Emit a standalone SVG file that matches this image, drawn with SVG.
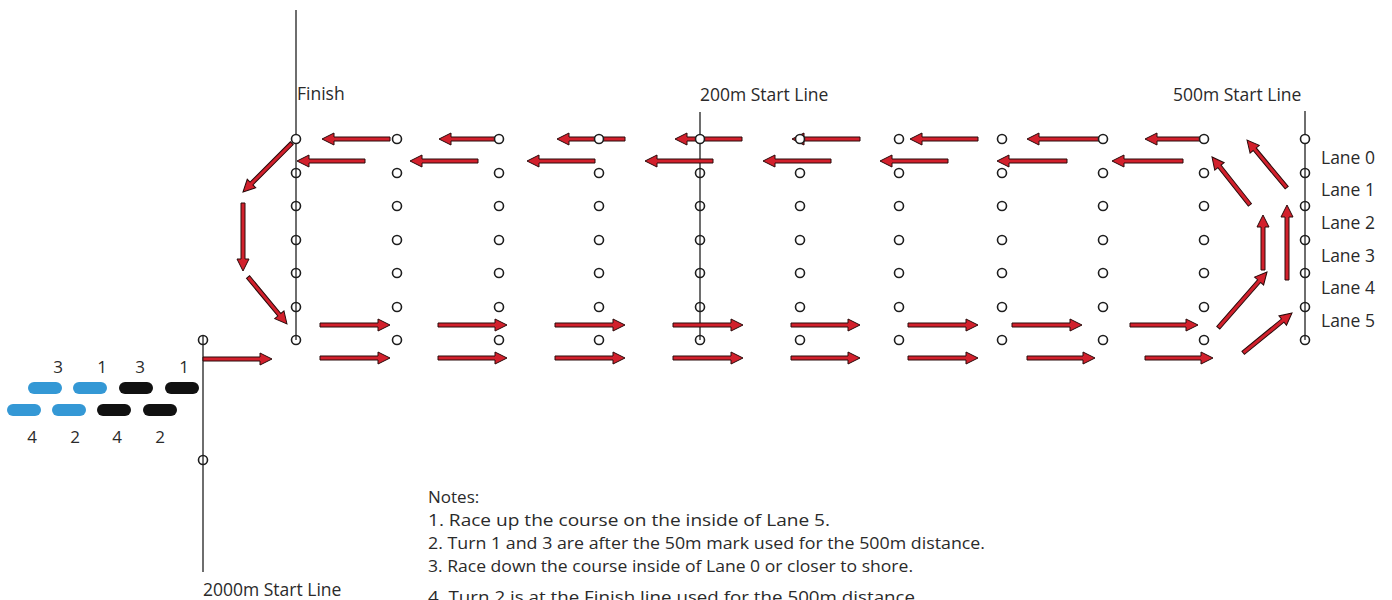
<svg xmlns="http://www.w3.org/2000/svg" width="1392" height="600" viewBox="0 0 1392 600">
<style>
.ln{stroke:#6e6e6e;stroke-width:2;fill:none}
.ar{fill:#d2202c;stroke:#2a0a0a;stroke-width:1;stroke-linejoin:miter}
.b{fill:#fff;stroke:#1e1e1e;stroke-width:1.6}
.bl{fill:none;stroke:#1e1e1e;stroke-width:1.6}
.t{font-family:"Open Sans","Noto Sans",sans-serif;font-size:17.5px;fill:#2a2a2a}
.nt{font-family:"Open Sans","Noto Sans",sans-serif;font-size:17px;fill:#2a2a2a}
.n{font-family:"Open Sans","Noto Sans",sans-serif;font-size:17px;fill:#2a2a2a;text-anchor:middle}
.blue{fill:#3498d5}
.blk{fill:#111}
</style>
<rect width="1392" height="600" fill="#fff"/>
<g id="course-lines">
<line class="ln" x1="296" y1="10" x2="296" y2="340"/>
<line class="ln" x1="700" y1="112" x2="700" y2="340"/>
<line class="ln" x1="1305" y1="111" x2="1305" y2="340"/>
<line class="ln" x1="203" y1="336" x2="203" y2="572"/>
</g>
<g id="connectors">
<!-- top row 1 -->
<path class="ar" transform="translate(322,139) rotate(180)" d="M0,0 L-12,-6 L-12,-2 L-68,-2 L-68,2 L-12,2 L-12,6 Z"/>
<path class="ar" transform="translate(439,139) rotate(180)" d="M0,0 L-12,-6 L-12,-2 L-62,-2 L-62,2 L-12,2 L-12,6 Z"/>
<path class="ar" transform="translate(557,139) rotate(180)" d="M0,0 L-12,-6 L-12,-2 L-68,-2 L-68,2 L-12,2 L-12,6 Z"/>
<path class="ar" transform="translate(675,139) rotate(180)" d="M0,0 L-12,-6 L-12,-2 L-67,-2 L-67,2 L-12,2 L-12,6 Z"/>
<path class="ar" transform="translate(792,139) rotate(180)" d="M0,0 L-12,-6 L-12,-2 L-68,-2 L-68,2 L-12,2 L-12,6 Z"/>
<path class="ar" transform="translate(910,139) rotate(180)" d="M0,0 L-12,-6 L-12,-2 L-68,-2 L-68,2 L-12,2 L-12,6 Z"/>
<path class="ar" transform="translate(1027,139) rotate(180)" d="M0,0 L-12,-6 L-12,-2 L-73,-2 L-73,2 L-12,2 L-12,6 Z"/>
<path class="ar" transform="translate(1145,139) rotate(180)" d="M0,0 L-12,-6 L-12,-2 L-60,-2 L-60,2 L-12,2 L-12,6 Z"/>
<!-- top row 2 -->
<path class="ar" transform="translate(297,161) rotate(180)" d="M0,0 L-12,-6 L-12,-2 L-68,-2 L-68,2 L-12,2 L-12,6 Z"/>
<path class="ar" transform="translate(410,161) rotate(180)" d="M0,0 L-12,-6 L-12,-2 L-68,-2 L-68,2 L-12,2 L-12,6 Z"/>
<path class="ar" transform="translate(527,161) rotate(180)" d="M0,0 L-12,-6 L-12,-2 L-68,-2 L-68,2 L-12,2 L-12,6 Z"/>
<path class="ar" transform="translate(645,161) rotate(180)" d="M0,0 L-12,-6 L-12,-2 L-68,-2 L-68,2 L-12,2 L-12,6 Z"/>
<path class="ar" transform="translate(763,161) rotate(180)" d="M0,0 L-12,-6 L-12,-2 L-68,-2 L-68,2 L-12,2 L-12,6 Z"/>
<path class="ar" transform="translate(880,161) rotate(180)" d="M0,0 L-12,-6 L-12,-2 L-68,-2 L-68,2 L-12,2 L-12,6 Z"/>
<path class="ar" transform="translate(997,161) rotate(180)" d="M0,0 L-12,-6 L-12,-2 L-70,-2 L-70,2 L-12,2 L-12,6 Z"/>
<path class="ar" transform="translate(1112,161) rotate(180)" d="M0,0 L-12,-6 L-12,-2 L-71,-2 L-71,2 L-12,2 L-12,6 Z"/>
<!-- bottom row A -->
<path class="ar" transform="translate(390,325)" d="M0,0 L-12,-6 L-12,-2 L-70,-2 L-70,2 L-12,2 L-12,6 Z"/>
<path class="ar" transform="translate(507,325)" d="M0,0 L-12,-6 L-12,-2 L-69,-2 L-69,2 L-12,2 L-12,6 Z"/>
<path class="ar" transform="translate(625,325)" d="M0,0 L-12,-6 L-12,-2 L-70,-2 L-70,2 L-12,2 L-12,6 Z"/>
<path class="ar" transform="translate(743,325)" d="M0,0 L-12,-6 L-12,-2 L-70,-2 L-70,2 L-12,2 L-12,6 Z"/>
<path class="ar" transform="translate(860,325)" d="M0,0 L-12,-6 L-12,-2 L-69,-2 L-69,2 L-12,2 L-12,6 Z"/>
<path class="ar" transform="translate(978,325)" d="M0,0 L-12,-6 L-12,-2 L-70,-2 L-70,2 L-12,2 L-12,6 Z"/>
<path class="ar" transform="translate(1082,325)" d="M0,0 L-12,-6 L-12,-2 L-70,-2 L-70,2 L-12,2 L-12,6 Z"/>
<path class="ar" transform="translate(1198,325)" d="M0,0 L-12,-6 L-12,-2 L-68,-2 L-68,2 L-12,2 L-12,6 Z"/>
<!-- bottom row B -->
<path class="ar" transform="translate(390,358)" d="M0,0 L-12,-6 L-12,-2 L-70,-2 L-70,2 L-12,2 L-12,6 Z"/>
<path class="ar" transform="translate(507,358)" d="M0,0 L-12,-6 L-12,-2 L-69,-2 L-69,2 L-12,2 L-12,6 Z"/>
<path class="ar" transform="translate(625,358)" d="M0,0 L-12,-6 L-12,-2 L-70,-2 L-70,2 L-12,2 L-12,6 Z"/>
<path class="ar" transform="translate(743,358)" d="M0,0 L-12,-6 L-12,-2 L-70,-2 L-70,2 L-12,2 L-12,6 Z"/>
<path class="ar" transform="translate(860,358)" d="M0,0 L-12,-6 L-12,-2 L-69,-2 L-69,2 L-12,2 L-12,6 Z"/>
<path class="ar" transform="translate(978,358)" d="M0,0 L-12,-6 L-12,-2 L-70,-2 L-70,2 L-12,2 L-12,6 Z"/>
<path class="ar" transform="translate(1095,358)" d="M0,0 L-12,-6 L-12,-2 L-68,-2 L-68,2 L-12,2 L-12,6 Z"/>
<path class="ar" transform="translate(1213,358)" d="M0,0 L-12,-6 L-12,-2 L-68,-2 L-68,2 L-12,2 L-12,6 Z"/>
<!-- left turn -->
<path class="ar" transform="translate(243,192) rotate(135)" d="M0,0 L-12,-6 L-12,-2 L-69,-2 L-69,2 L-12,2 L-12,6 Z"/>
<path class="ar" transform="translate(243,271) rotate(90)" d="M0,0 L-12,-6 L-12,-2 L-68,-2 L-68,2 L-12,2 L-12,6 Z"/>
<path class="ar" transform="translate(287,324) rotate(50.3)" d="M0,0 L-12,-6 L-12,-2 L-61,-2 L-61,2 L-12,2 L-12,6 Z"/>
<path class="ar" transform="translate(272,359)" d="M0,0 L-12,-6 L-12,-2 L-69,-2 L-69,2 L-12,2 L-12,6 Z"/>
<!-- right turn -->
<path class="ar" transform="translate(1212,157) rotate(-128.4)" d="M0,0 L-12,-6 L-12,-2 L-61,-2 L-61,2 L-12,2 L-12,6 Z"/>
<path class="ar" transform="translate(1247,140) rotate(-129.8)" d="M0,0 L-12,-6 L-12,-2 L-62,-2 L-62,2 L-12,2 L-12,6 Z"/>
<path class="ar" transform="translate(1263,215) rotate(-90)" d="M0,0 L-12,-6 L-12,-2 L-55,-2 L-55,2 L-12,2 L-12,6 Z"/>
<path class="ar" transform="translate(1287,205) rotate(-90)" d="M0,0 L-12,-6 L-12,-2 L-75,-2 L-75,2 L-12,2 L-12,6 Z"/>
<path class="ar" transform="translate(1267,272) rotate(-48.8)" d="M0,0 L-12,-6 L-12,-2 L-74,-2 L-74,2 L-12,2 L-12,6 Z"/>
<path class="ar" transform="translate(1292,313) rotate(-39.2)" d="M0,0 L-12,-6 L-12,-2 L-63,-2 L-63,2 L-12,2 L-12,6 Z"/>
</g>
<g id="buoys">
<g id="col-finish">
<circle class="b" cx="296" cy="139" r="4.5"/><circle class="bl" cx="296" cy="173" r="4.5"/><circle class="bl" cx="296" cy="206" r="4.5"/><circle class="bl" cx="296" cy="240" r="4.5"/><circle class="bl" cx="296" cy="273" r="4.5"/><circle class="bl" cx="296" cy="307" r="4.5"/><circle class="bl" cx="296" cy="340" r="4.5"/>
</g>
<g id="col-397">
<circle class="b" cx="397" cy="139" r="4.5"/><circle class="b" cx="397" cy="173" r="4.5"/><circle class="b" cx="397" cy="206" r="4.5"/><circle class="b" cx="397" cy="240" r="4.5"/><circle class="b" cx="397" cy="273" r="4.5"/><circle class="b" cx="397" cy="307" r="4.5"/><circle class="b" cx="397" cy="340" r="4.5"/>
</g>
<g id="col-499">
<circle class="b" cx="499" cy="139" r="4.5"/><circle class="b" cx="499" cy="173" r="4.5"/><circle class="b" cx="499" cy="206" r="4.5"/><circle class="b" cx="499" cy="240" r="4.5"/><circle class="b" cx="499" cy="273" r="4.5"/><circle class="b" cx="499" cy="307" r="4.5"/><circle class="b" cx="499" cy="340" r="4.5"/>
</g>
<g id="col-599">
<circle class="b" cx="599" cy="139" r="4.5"/><circle class="b" cx="599" cy="173" r="4.5"/><circle class="b" cx="599" cy="206" r="4.5"/><circle class="b" cx="599" cy="240" r="4.5"/><circle class="b" cx="599" cy="273" r="4.5"/><circle class="b" cx="599" cy="307" r="4.5"/><circle class="b" cx="599" cy="340" r="4.5"/>
</g>
<g id="col-200m">
<circle class="b" cx="700" cy="139" r="4.5"/><circle class="bl" cx="700" cy="173" r="4.5"/><circle class="bl" cx="700" cy="206" r="4.5"/><circle class="bl" cx="700" cy="240" r="4.5"/><circle class="bl" cx="700" cy="273" r="4.5"/><circle class="bl" cx="700" cy="307" r="4.5"/><circle class="bl" cx="700" cy="340" r="4.5"/>
</g>
<g id="col-800">
<circle class="b" cx="800" cy="139" r="4.5"/><circle class="b" cx="800" cy="173" r="4.5"/><circle class="b" cx="800" cy="206" r="4.5"/><circle class="b" cx="800" cy="240" r="4.5"/><circle class="b" cx="800" cy="273" r="4.5"/><circle class="b" cx="800" cy="307" r="4.5"/><circle class="b" cx="800" cy="340" r="4.5"/>
</g>
<g id="col-899">
<circle class="b" cx="899" cy="139" r="4.5"/><circle class="b" cx="899" cy="173" r="4.5"/><circle class="b" cx="899" cy="206" r="4.5"/><circle class="b" cx="899" cy="240" r="4.5"/><circle class="b" cx="899" cy="273" r="4.5"/><circle class="b" cx="899" cy="307" r="4.5"/><circle class="b" cx="899" cy="340" r="4.5"/>
</g>
<g id="col-1002">
<circle class="b" cx="1002" cy="139" r="4.5"/><circle class="b" cx="1002" cy="173" r="4.5"/><circle class="b" cx="1002" cy="206" r="4.5"/><circle class="b" cx="1002" cy="240" r="4.5"/><circle class="b" cx="1002" cy="273" r="4.5"/><circle class="b" cx="1002" cy="307" r="4.5"/><circle class="b" cx="1002" cy="340" r="4.5"/>
</g>
<g id="col-1103">
<circle class="b" cx="1103" cy="139" r="4.5"/><circle class="b" cx="1103" cy="173" r="4.5"/><circle class="b" cx="1103" cy="206" r="4.5"/><circle class="b" cx="1103" cy="240" r="4.5"/><circle class="b" cx="1103" cy="273" r="4.5"/><circle class="b" cx="1103" cy="307" r="4.5"/><circle class="b" cx="1103" cy="340" r="4.5"/>
</g>
<g id="col-1204">
<circle class="b" cx="1204" cy="139" r="4.5"/><circle class="b" cx="1204" cy="173" r="4.5"/><circle class="b" cx="1204" cy="206" r="4.5"/><circle class="b" cx="1204" cy="240" r="4.5"/><circle class="b" cx="1204" cy="273" r="4.5"/><circle class="b" cx="1204" cy="307" r="4.5"/><circle class="b" cx="1204" cy="340" r="4.5"/>
</g>
<g id="col-500m">
<circle class="b" cx="1305" cy="139" r="4.5"/><circle class="bl" cx="1305" cy="173" r="4.5"/><circle class="bl" cx="1305" cy="206" r="4.5"/><circle class="bl" cx="1305" cy="240" r="4.5"/><circle class="bl" cx="1305" cy="273" r="4.5"/><circle class="bl" cx="1305" cy="307" r="4.5"/><circle class="bl" cx="1305" cy="340" r="4.5"/>
</g>
<g id="col-2000m">
<circle class="bl" cx="203" cy="340" r="4.5"/><circle class="bl" cx="203" cy="460" r="4.5"/>
</g>
</g>
<g id="boats">
<rect class="blue" x="28" y="382" width="34" height="12" rx="6"/>
<rect class="blue" x="73" y="382" width="34" height="12" rx="6"/>
<rect class="blk" x="119" y="382" width="34" height="12" rx="6"/>
<rect class="blk" x="165" y="382" width="34" height="12" rx="6"/>
<rect class="blue" x="7" y="404" width="34" height="12" rx="6"/>
<rect class="blue" x="52" y="404" width="34" height="12" rx="6"/>
<rect class="blk" x="97" y="404" width="34" height="12" rx="6"/>
<rect class="blk" x="143" y="404" width="34" height="12" rx="6"/>
<text class="n" x="58" y="373">3</text>
<text class="n" x="102" y="373">1</text>
<text class="n" x="140" y="373">3</text>
<text class="n" x="184" y="373">1</text>
<text class="n" x="32" y="443">4</text>
<text class="n" x="75" y="443">2</text>
<text class="n" x="117" y="443">4</text>
<text class="n" x="160" y="443">2</text>
</g>
<g id="labels">
<text class="t" x="297" y="100">Finish</text>
<text class="t" x="700" y="101">200m Start Line</text>
<text class="t" x="1173" y="101">500m Start Line</text>
<text class="t" x="203" y="596">2000m Start Line</text>
<text class="t" x="1321" y="164">Lane 0</text>
<text class="t" x="1321" y="196">Lane 1</text>
<text class="t" x="1321" y="229">Lane 2</text>
<text class="t" x="1321" y="262">Lane 3</text>
<text class="t" x="1321" y="294">Lane 4</text>
<text class="t" x="1321" y="327">Lane 5</text>
</g>
<g id="notes">
<text class="nt" x="428" y="503">Notes:</text>
<text class="nt" x="428" y="526" textLength="402" lengthAdjust="spacingAndGlyphs">1. Race up the course on the inside of Lane 5.</text>
<text class="nt" x="428" y="549" textLength="557" lengthAdjust="spacingAndGlyphs">2. Turn 1 and 3 are after the 50m mark used for the 500m distance.</text>
<text class="nt" x="428" y="572" textLength="485" lengthAdjust="spacingAndGlyphs">3. Race down the course inside of Lane 0 or closer to shore.</text>
<text class="nt" x="428" y="603" textLength="492" lengthAdjust="spacingAndGlyphs">4. Turn 2 is at the Finish line used for the 500m distance.</text>
</g>
</svg>
